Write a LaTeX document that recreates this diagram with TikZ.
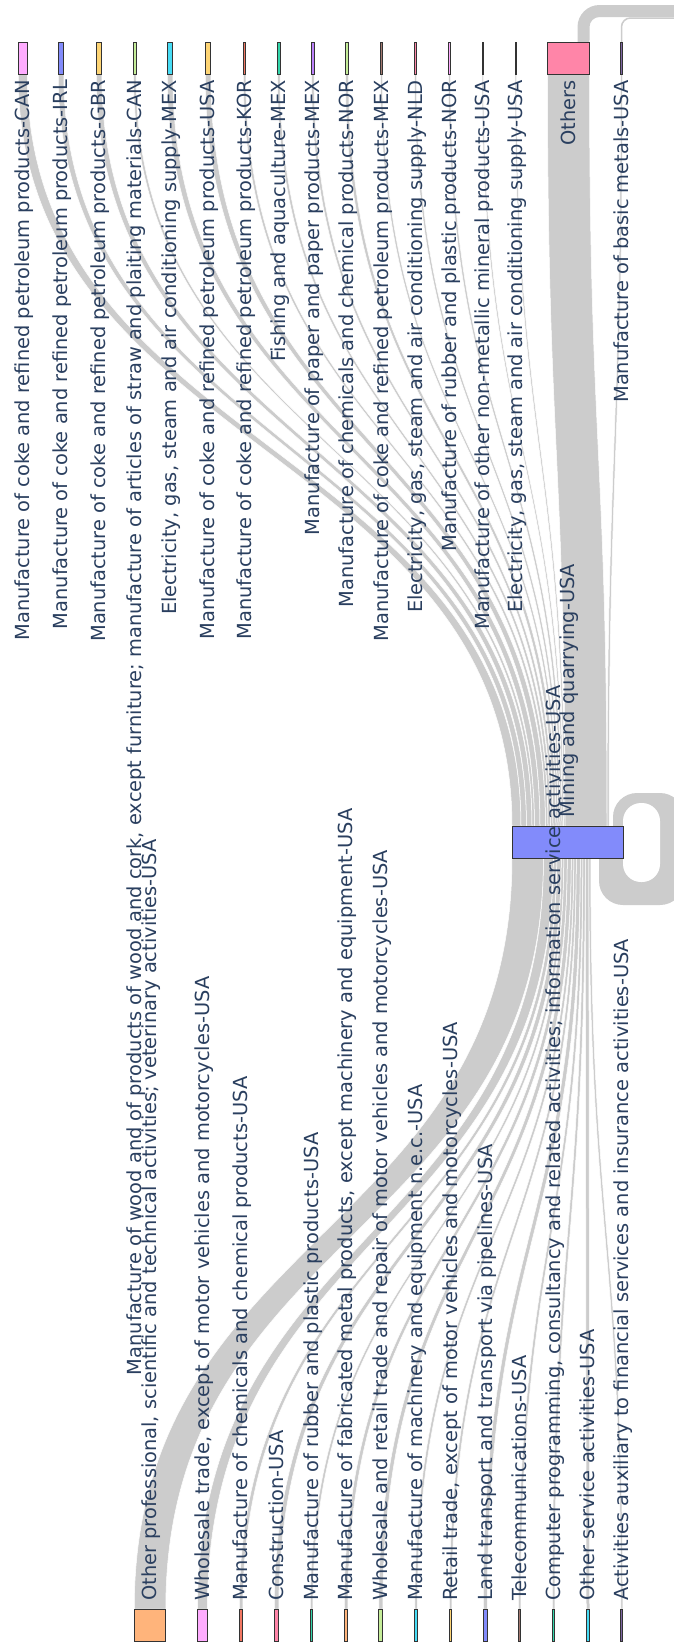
\documentclass[tikz,border=0pt]{standalone}
\usepackage{fontspec}
\setmainfont{DejaVu Sans}
\usetikzlibrary{calc}
\pgfdeclarelayer{background}
\pgfsetlayers{background,main}

\definecolor{txt}{HTML}{2A3F5F}
\definecolor{linkgray}{HTML}{CCCCCC}
\definecolor{plBlue}{HTML}{636EFA}
\definecolor{plRed}{HTML}{EF553B}
\definecolor{plGreen}{HTML}{00CC96}
\definecolor{plPurple}{HTML}{AB63FA}
\definecolor{plOrange}{HTML}{FFA15A}
\definecolor{plCyan}{HTML}{19D3F3}
\definecolor{plRose}{HTML}{FF6692}
\definecolor{plLime}{HTML}{B6E880}
\definecolor{plPink}{HTML}{FF97FF}
\definecolor{plYellow}{HTML}{FECB52}
\definecolor{plBrown}{HTML}{8C564B}
\definecolor{plNavy}{HTML}{3B3B8F}
\definecolor{plPlum}{HTML}{5E3F8C}

\tikzset{
  sknode/.style={draw=black!80, line width=1pt, inner sep=0pt, outer sep=0pt, minimum height=32pt},
  band/.style={fill=linkgray, draw=white, line width=0.5pt},
  toplab/.style={rotate=90, anchor=base east, inner sep=0pt, text=txt, font=\fontsize{19.4}{23}\selectfont},
  botlab/.style={rotate=90, anchor=base west, inner sep=0pt, text=txt, font=\fontsize{19.4}{23}\selectfont},
}

% band from a source below into the bottom of the middle node
\newcommand{\inflow}[3]{%
  \coordinate (fa) at (#1.north west);
  \coordinate (fb) at (#1.north east);
  \coordinate (fc) at ([xshift=#2pt]mid.south west);
  \coordinate (fd) at ([xshift=#3pt]mid.south west);
  \path[band] (fa) .. controls (fa |- lowmid) and (fc |- lowmid) .. (fc)
    -- (fd) .. controls (fd |- lowmid) and (fb |- lowmid) .. (fb) -- cycle;}
% band from the top of the middle node to a target above
\newcommand{\outflow}[3]{%
  \coordinate (fa) at (#1.south west);
  \coordinate (fb) at (#1.south east);
  \coordinate (fc) at ([xshift=#2pt]mid.north west);
  \coordinate (fd) at ([xshift=#3pt]mid.north west);
  \path[band] (fc) .. controls (fc |- highmid) and (fa |- highmid) .. (fa)
    -- (fb) .. controls (fb |- highmid) and (fd |- highmid) .. (fd) -- cycle;}

\begin{document}
\begin{tikzpicture}[x=1pt, y=-1pt]
  \useasboundingbox (0,0) rectangle (673,1644);
  \begin{pgfonlayer}{background}
    \fill[white] (0,0) rectangle (673,1644);
  \end{pgfonlayer}
  \coordinate (lowmid) at (0,1233.5);
  \coordinate (highmid) at (0,450);

  \node[sknode, fill=plBlue!80, minimum width=111pt] (mid) at (567.5,842) {};

  % sources
  \gdef\slot{0}
  \foreach \nm/\cx/\bw/\cl/\lab in {
      prof/150/31.5/plOrange/{Other professional, scientific and technical activities; veterinary activities-USA},
      whole/202.5/9.8/plPink/{Wholesale trade, except of motor vehicles and motorcycles-USA},
      chemus/241/3.5/plRed/{Manufacture of chemicals and chemical products-USA},
      constr/276.5/4.5/plRose/{Construction-USA},
      rubus/311.5/2.5/plGreen/{Manufacture of rubber and plastic products-USA},
      fabr/346/3.5/plOrange/{Manufacture of fabricated metal products, except machinery and equipment-USA},
      repair/380.75/4/plLime/{Wholesale and retail trade and repair of motor vehicles and motorcycles-USA},
      mach/416.1/2.5/plCyan/{Manufacture of machinery and equipment n.e.c.-USA},
      retail/450.5/2.5/plYellow/{Retail trade, except of motor vehicles and motorcycles-USA},
      land/485.25/4/plBlue/{Land transport and transport via pipelines-USA},
      telco/519.5/2.5/plBrown/{Telecommunications-USA},
      comp/553.5/2.5/plGreen/{Computer programming, consultancy and related activities; information service activities-USA},
      serv/588/3.5/plCyan/{Other service activities-USA},
      finaux/621.8/2/plPlum/{Activities auxiliary to financial services and insurance activities-USA}}{
    \node[sknode, fill=\cl!80, minimum width=\bw pt] (\nm) at (\cx,1625) {};
    \node[botlab] (\nm l) at ([xshift=6.8pt,yshift=8pt]\nm.north) {\lab};
    \pgfmathsetmacro\slotend{\slot+\bw}
    \begin{pgfonlayer}{background}
      \inflow{\nm}{\slot}{\slotend}
    \end{pgfonlayer}
    \global\let\slot\slotend
  }

  % targets
  \gdef\slot{0}
  \foreach \nm/\cx/\bw/\cl/\lab in {
      cokecan/22.75/9/plPink/{Manufacture of coke and refined petroleum products-CAN},
      cokeirl/61/5.5/plBlue/{Manufacture of coke and refined petroleum products-IRL},
      cokegbr/99/5.5/plYellow/{Manufacture of coke and refined petroleum products-GBR},
      woodcan/134.75/2.5/plLime/{Manufacture of wood and of products of wood and cork, except furniture; manufacture of articles of straw and plaiting materials-CAN},
      elecmex/170/5.5/plCyan/{Electricity, gas, steam and air conditioning supply-MEX},
      cokeusa/208/5.5/plYellow/{Manufacture of coke and refined petroleum products-USA},
      cokekor/244.5/2.5/plRed/{Manufacture of coke and refined petroleum products-KOR},
      fishmex/278.75/2.5/plGreen/{Fishing and aquaculture-MEX},
      papermex/312.8/2.5/plPurple/{Manufacture of paper and paper products-MEX},
      chemnor/347/3/plLime/{Manufacture of chemicals and chemical products-NOR},
      cokemex/381.5/2/plBrown/{Manufacture of coke and refined petroleum products-MEX},
      elecnld/415.5/2/plRose/{Electricity, gas, steam and air conditioning supply-NLD},
      rubnor/449.5/2/plPink/{Manufacture of rubber and plastic products-NOR},
      minusa/482.75/1.5/plNavy/{Manufacture of other non-metallic mineral products-USA},
      elecusa/515.75/1.5/plBrown/{Electricity, gas, steam and air conditioning supply-USA},
      others/568.5/42/plRose/{Others},
      metal/621.5/2/plPlum/{Manufacture of basic metals-USA}}{
    \node[sknode, fill=\cl!80, minimum width=\bw pt] (\nm) at (\cx,58.5) {};
    \node[toplab] (\nm l) at ([xshift=6.8pt,yshift=-5.5pt]\nm.south) {\lab};
    \pgfmathsetmacro\slotend{\slot+\bw}
    \begin{pgfonlayer}{background}
      \outflow{\nm}{\slot}{\slotend}
    \end{pgfonlayer}
    \global\let\slot\slotend
  }

  % circular links
  \begin{pgfonlayer}{background}
    \fill[linkgray] (577.5,50) [rounded corners=22pt] -- (577.5,5) -- (720,5)
      -- (720,17) [rounded corners=10pt] -- (589.5,17) -- (589.5,50) [sharp corners] -- cycle;
    \draw[linkgray, line width=1.5pt, rounded corners=9pt] (metal.north) -- ([yshift=24.5pt]metal.north) -- ++(90,0);
    \fill[linkgray] (613,840) [rounded corners=24pt] -- (613,793) -- (684,793)
      -- (684,905) -- (599,905) -- (599,845) [sharp corners] -- (599,840) -- cycle;
    \fill[white, rounded corners=18pt] (623,803) rectangle (660,882);
  \end{pgfonlayer}

  \node[botlab] (midl) at ([xshift=6.8pt,yshift=8pt]mid.north) {Mining and quarrying-USA};
\end{tikzpicture}
\end{document}
